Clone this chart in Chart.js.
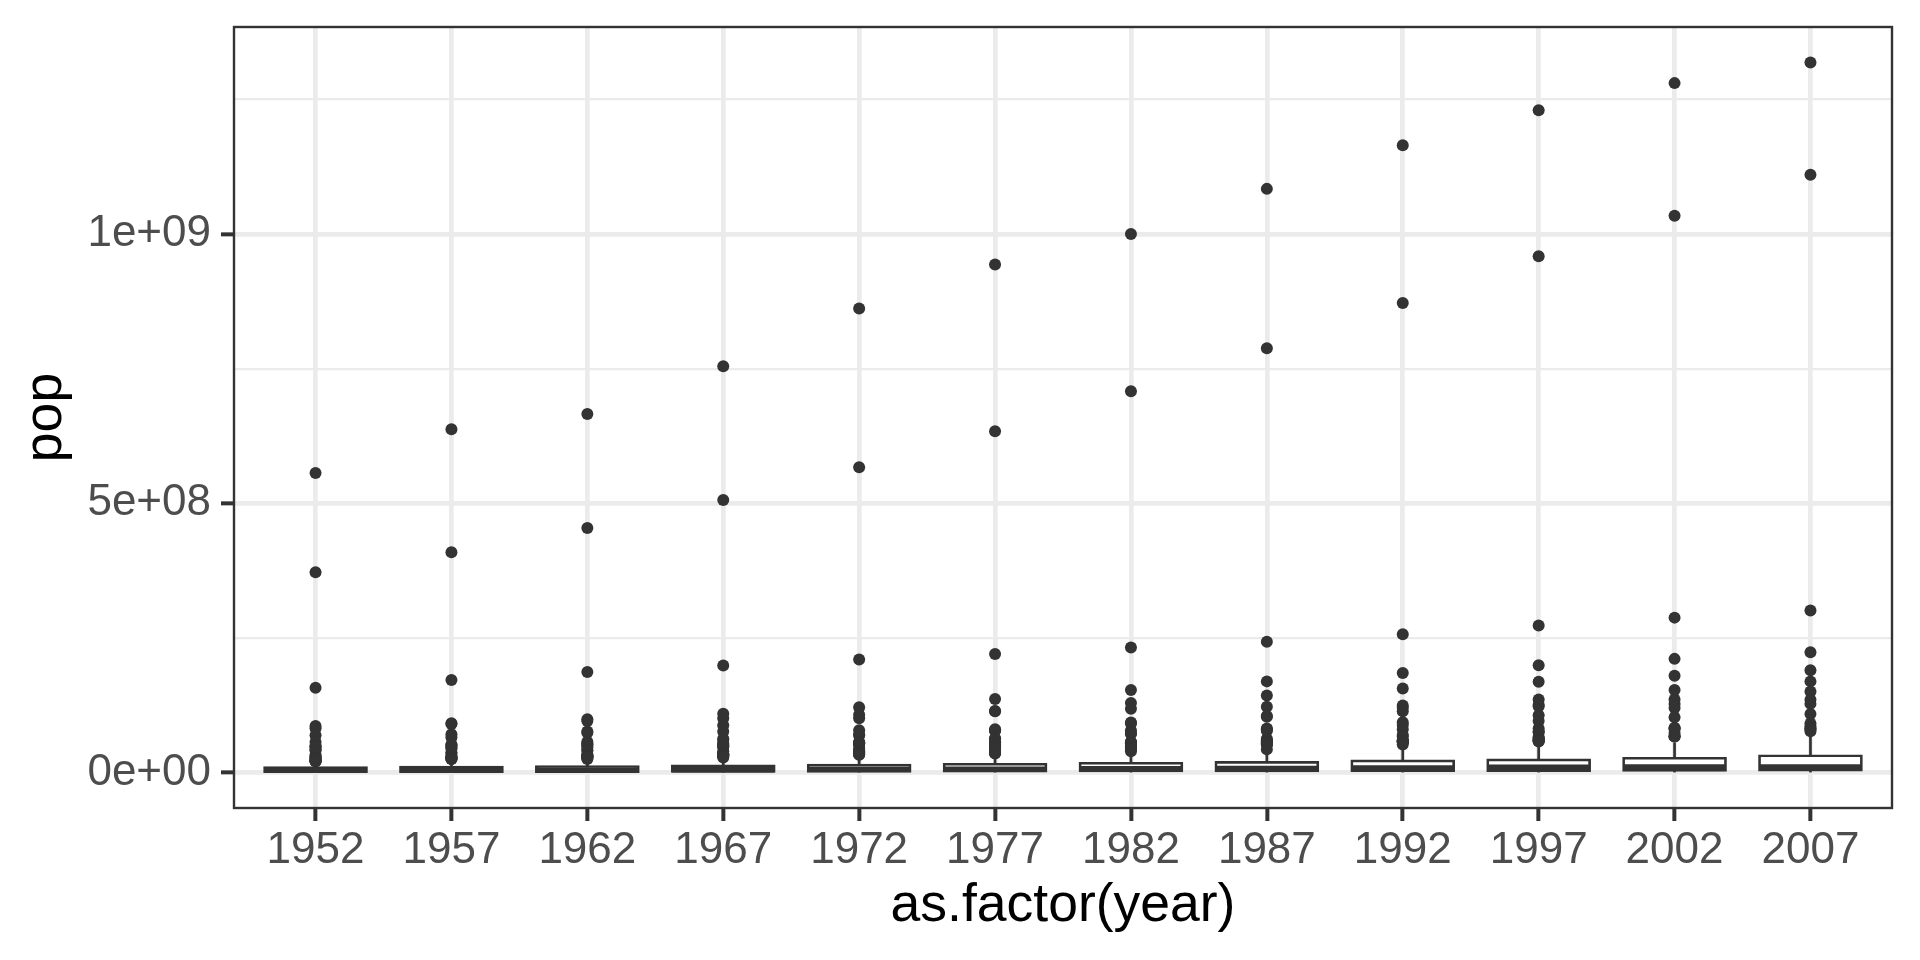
<!DOCTYPE html>
<html>
<head>
<meta charset="utf-8">
<script src="https://cdn.jsdelivr.net/npm/chart.js@4.4.1/dist/chart.umd.min.js"></script>
<style>
  html, body { margin: 0; padding: 0; background: #ffffff; }
  #wrap { width: 1920px; height: 960px; }
</style>
</head>
<body>
<div id="wrap"><canvas id="boxplot"></canvas></div>
<script>
// gapminder pop by year, box stats
const years = ["1952", "1957", "1962", "1967", "1972", "1977", "1982", "1987", "1992", "1997", "2002", "2007"];

const whiskerLow = [60011, 61325, 65345, 70787, 76595, 86796, 98593, 110812, 125911, 145608, 170372, 199579];
const q1 = [1.43e6, 1.59e6, 1.71e6, 1.95e6, 2.26e6, 2.53e6, 2.83e6, 3.10e6, 3.30e6, 3.60e6, 3.90e6, 4.51e6];
const medians = [3.94e6, 4.28e6, 4.69e6, 5.17e6, 5.88e6, 6.40e6, 7.00e6, 7.77e6, 8.69e6, 9.74e6, 10.37e6, 10.52e6];
const q3 = [9.17e6, 10.20e6, 11.00e6, 12.30e6, 13.80e6, 15.40e6, 17.20e6, 19.00e6, 21.60e6, 23.50e6, 26.50e6, 31.21e6];
const whiskerHigh = [20.1e6, 22.8e6, 23.6e6, 26.5e6, 30.8e6, 34.6e6, 38.1e6, 41.6e6, 43.8e6, 47.8e6, 55.4e6, 71.2e6];

const outliers1952 = [556.3e6, 372.0e6, 157.6e6, 86.5e6, 82.1e6, 69.1e6, 56.6e6, 50.4e6, 47.7e6, 46.9e6, 42.5e6, 41.3e6, 33.1e6, 30.1e6, 28.5e6, 26.2e6, 25.7e6, 22.4e6, 22.2e6, 22.2e6, 21.3e6, 20.9e6, 20.9e6];
const outliers1957 = [637.4e6, 409.0e6, 172.0e6, 91.6e6, 90.1e6, 71.0e6, 65.6e6, 51.4e6, 51.4e6, 49.2e6, 46.7e6, 44.3e6, 37.2e6, 35.0e6, 29.8e6, 29.0e6, 28.2e6, 26.1e6, 25.7e6, 25.0e6, 25.0e6];
const outliers1962 = [665.8e6, 454.0e6, 186.5e6, 99.0e6, 95.8e6, 76.0e6, 73.7e6, 57.0e6, 53.3e6, 53.1e6, 50.8e6, 47.1e6, 41.9e6, 41.1e6, 33.8e6, 31.2e6, 30.3e6, 30.3e6, 29.8e6, 29.3e6, 28.2e6, 26.4e6, 25.1e6];
const outliers1967 = [754.6e6, 506.0e6, 198.7e6, 109.3e6, 100.8e6, 88.0e6, 76.4e6, 62.8e6, 60.6e6, 55.0e6, 52.7e6, 50.0e6, 48.0e6, 47.3e6, 39.5e6, 35.4e6, 34.0e6, 33.4e6, 32.9e6, 31.8e6, 31.7e6, 30.1e6, 27.9e6];
const outliers1972 = [862.0e6, 567.0e6, 209.9e6, 121.3e6, 107.2e6, 100.8e6, 78.7e6, 70.8e6, 69.3e6, 56.1e6, 56.0e6, 54.4e6, 53.7e6, 51.7e6, 44.7e6, 40.9e6, 39.3e6, 37.5e6, 34.8e6, 34.5e6, 33.5e6, 33.0e6];
const outliers1977 = [943.5e6, 634.0e6, 220.2e6, 136.7e6, 114.3e6, 113.9e6, 80.4e6, 78.2e6, 78.2e6, 63.8e6, 62.2e6, 56.2e6, 56.1e6, 53.2e6, 50.5e6, 46.9e6, 44.1e6, 42.4e6, 38.8e6, 36.4e6, 36.4e6, 35.5e6];
const outliers1982 = [1000.3e6, 708.0e6, 232.2e6, 153.3e6, 129.0e6, 118.5e6, 93.1e6, 91.5e6, 78.3e6, 73.0e6, 71.6e6, 56.5e6, 56.3e6, 56.1e6, 54.4e6, 53.5e6, 48.8e6, 47.3e6, 45.7e6, 43.1e6, 39.3e6];
const outliers1987 = [1084.0e6, 788.0e6, 242.8e6, 169.3e6, 142.9e6, 122.1e6, 105.2e6, 103.8e6, 81.6e6, 80.1e6, 77.7e6, 62.8e6, 60.0e6, 57.0e6, 56.7e6, 55.6e6, 52.9e6, 52.9e6, 52.8e6, 51.9e6, 43.0e6];
const outliers1992 = [1165.0e6, 872.0e6, 256.9e6, 184.8e6, 156.0e6, 124.3e6, 120.1e6, 113.7e6, 93.4e6, 88.1e6, 80.6e6, 69.9e6, 67.2e6, 60.4e6, 59.4e6, 58.2e6, 57.9e6, 57.4e6, 56.8e6, 56.7e6, 52.1e6];
const outliers1997 = [1230.1e6, 959.0e6, 272.9e6, 199.3e6, 168.5e6, 135.6e6, 126.0e6, 123.3e6, 106.2e6, 95.9e6, 82.0e6, 76.0e6, 75.0e6, 66.1e6, 63.5e6, 63.0e6, 60.2e6, 59.9e6, 58.8e6, 58.6e6, 57.5e6];
const outliers2002 = [1280.4e6, 1034.2e6, 287.7e6, 211.1e6, 179.9e6, 153.4e6, 135.7e6, 127.1e6, 119.9e6, 102.5e6, 83.0e6, 82.4e6, 80.9e6, 73.3e6, 67.3e6, 67.0e6, 66.9e6];
const outliers2007 = [1318.7e6, 1110.4e6, 301.1e6, 223.5e6, 190.0e6, 169.3e6, 150.4e6, 135.0e6, 127.5e6, 108.7e6, 91.1e6, 85.3e6, 82.4e6, 80.3e6, 76.5e6];

const outlierLists = [outliers1952, outliers1957, outliers1962, outliers1967, outliers1972, outliers1977,
    outliers1982, outliers1987, outliers1992, outliers1997, outliers2002, outliers2007];

const yTickValues = [0, 5e8, 1e9];
const yTickLabels = ["0e+00", "5e+08", "1e+09"];
const yMinorValues = [2.5e8, 7.5e8, 1.25e9];

const ink = "#333333";
const gridColour = "#EBEBEB";
const boxWidth = 0.75;

// ggplot style expansion: 5% on the continuous axis, 0.6 on the discrete one
const allValues = outlierLists.flat().concat(whiskerLow, whiskerHigh);
const dataMin = Math.min(...allValues);
const dataMax = Math.max(...allValues);
const yMin = dataMin - 0.05 * (dataMax - dataMin);
const yMax = dataMax + 0.05 * (dataMax - dataMin);

const outlierPoints = [];
outlierLists.forEach((list, i) => {
    list.forEach((v) => outlierPoints.push({ x: i, y: v }));
});

const panelBorder = {
    id: "panelBorder",
    afterDatasetsDraw(chart) {
        const { ctx, chartArea } = chart;
        ctx.save();
        ctx.strokeStyle = ink;
        ctx.lineWidth = 2.4;
        ctx.strokeRect(chartArea.left, chartArea.top, chartArea.right - chartArea.left, chartArea.bottom - chartArea.top);
        ctx.restore();
    },
};

Chart.defaults.font.family = "'Liberation Sans', Arial, sans-serif";

new Chart(document.getElementById("boxplot"), {
    type: "bar",
    data: {
        datasets: [
            {
                type: "scatter",
                label: "outliers",
                data: outlierPoints,
                pointRadius: 6,
                pointBackgroundColor: ink,
                pointBorderWidth: 0,
                order: 0,
            },
            {
                type: "scatter",
                label: "median",
                data: medians.map((m, i) => ({ x: i, y: m })),
                pointStyle: "line",
                pointBorderColor: ink,
                pointBorderWidth: 5.4,
                pointRadius: (ctx) => {
                    const xs = ctx.chart.scales.x;
                    const r = xs ? xs.getPixelForValue(boxWidth / 2) - xs.getPixelForValue(0) : 50;
                    return isFinite(r) && r > 0 ? r : 50;
                },
                order: 1,
            },
            {
                label: "box",
                data: q1.map((v, i) => ({ x: i, y: [v, q3[i]] })),
                backgroundColor: "#ffffff",
                borderColor: ink,
                borderWidth: 2.7,
                borderSkipped: false,
                inflateAmount: 1.35,
                barPercentage: boxWidth,
                categoryPercentage: 1,
                grouped: false,
                order: 2,
            },
            {
                label: "whisker",
                data: whiskerLow.map((v, i) => ({ x: i, y: [v, whiskerHigh[i]] })),
                backgroundColor: ink,
                borderWidth: 0,
                inflateAmount: 0,
                barThickness: 2.7,
                grouped: false,
                order: 3,
            },
        ],
    },
    options: {
        responsive: true,
        maintainAspectRatio: false,
        animation: false,
        layout: { autoPadding: false, padding: { left: 0, top: 27, right: 28, bottom: 0 } },
        plugins: {
            legend: { display: false },
            tooltip: { enabled: false },
        },
        scales: {
            x: {
                type: "linear",
                min: -0.6,
                max: years.length - 1 + 0.6,
                offset: false,
                afterBuildTicks: (scale) => {
                    scale.ticks = years.map((y, i) => ({ value: i }));
                },
                afterFit: (scale) => {
                    scale.height = 152;
                    scale.paddingLeft = 0;
                    scale.paddingRight = 0;
                },
                grid: {
                    offset: false,
                    color: gridColour,
                    lineWidth: 4.7,
                    tickColor: ink,
                    tickLength: 13,
                    tickWidth: 4,
                },
                border: { display: false },
                ticks: {
                    autoSkip: false,
                    maxRotation: 0,
                    padding: 3,
                    color: "#4D4D4D",
                    font: { size: 44 },
                    callback: (value) => years[value],
                },
                title: {
                    display: true,
                    text: "as.factor(year)",
                    color: "#000000",
                    font: { size: 53.5 },
                    padding: { top: 0, bottom: 22 },
                },
            },
            y: {
                type: "linear",
                min: yMin,
                max: yMax,
                afterBuildTicks: (scale) => {
                    scale.ticks = yTickValues.concat(yMinorValues).sort((a, b) => a - b).map((v) => ({ value: v }));
                },
                afterFit: (scale) => {
                    scale.width = 234;
                    scale.paddingTop = 0;
                    scale.paddingBottom = 0;
                },
                grid: {
                    color: gridColour,
                    lineWidth: (ctx) => (yTickValues.includes(ctx.tick.value) ? 4.7 : 2.35),
                    tickColor: (ctx) => (yTickValues.includes(ctx.tick.value) ? ink : "rgba(0,0,0,0)"),
                    tickLength: 13,
                    tickWidth: 4,
                },
                border: { display: false },
                ticks: {
                    padding: 10,
                    color: "#4D4D4D",
                    font: { size: 44 },
                    callback: (value) => {
                        const k = yTickValues.indexOf(value);
                        return k >= 0 ? yTickLabels[k] : "";
                    },
                },
                title: {
                    display: true,
                    text: "pop",
                    color: "#000000",
                    font: { size: 53.5 },
                    padding: { top: 14, bottom: 0 },
                },
            },
        },
    },
    plugins: [panelBorder],
});
</script>
</body>
</html>
